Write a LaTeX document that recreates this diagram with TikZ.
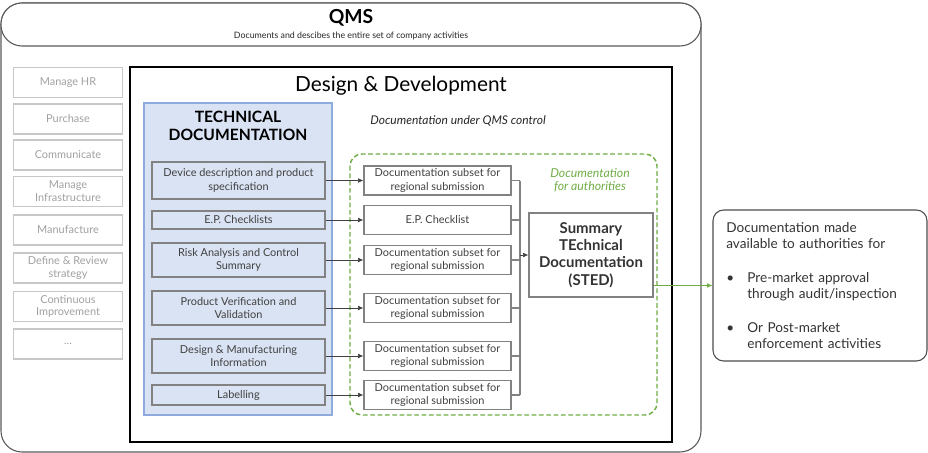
\documentclass[tikz,border=0pt]{standalone}
\usepackage{fontspec}
\setmainfont{Lato}
\usetikzlibrary{arrows.meta}
\definecolor{tdfill}{RGB}{218,227,243}
\definecolor{tdline}{RGB}{143,170,220}
\definecolor{authgreen}{RGB}{112,173,71}
\definecolor{txtgray}{RGB}{64,64,64}
\definecolor{procgray}{RGB}{160,160,160}
\definecolor{procline}{RGB}{200,200,200}
\definecolor{boxline}{RGB}{130,130,130}
\begin{document}
\begin{tikzpicture}[x=0.75pt,y=0.75pt,yscale=-1,xscale=1,
  procbox/.style={draw=procline,line width=0.9pt,text=procgray,font=\fontsize{8.2}{9.6}\selectfont,minimum width=81.75pt,minimum height=22.5pt,align=center,inner sep=1pt},
  tditem/.style={draw=boxline,line width=0.9pt,fill=tdfill,text=txtgray,font=\fontsize{8.2}{10}\selectfont,minimum width=129.75pt,align=center,inner sep=1pt},
  subbox/.style={draw=boxline,line width=0.9pt,fill=white,text=txtgray,font=\fontsize{8.2}{9.8}\selectfont,minimum width=110.25pt,minimum height=21.75pt,align=center,inner sep=1pt},
  conn/.style={draw=black!75,line width=0.5pt,-{Latex[length=4pt,width=3.5pt]}},
  busline/.style={draw=boxline,line width=0.8pt}]

\useasboundingbox (0,0) rectangle (928,453);

\draw [draw=black!65,line width=0.8pt,rounded corners=15.75pt] (1,3) rectangle (701,452);
\node [draw=black!65,line width=0.8pt,fill=white,rounded corners=15.75pt,minimum width=525pt,minimum height=32.25pt] (qms) at (351,24.5) {};
\node [font=\fontsize{14.5}{16}\selectfont\bfseries] (qmstitle) at (351,18) {QMS};
\node [font=\fontsize{6.6}{7.5}\selectfont,text=black!85] (qmssub) at (351,36.5) {Documents and descibes the entire set of company activities};

\node [procbox] (hr) at (68,82.5) {Manage HR};
\node [procbox] (purchase) at (68,119) {Purchase};
\node [procbox] (communicate) at (68,155) {Communicate};
\node [procbox] (infra) at (68,191.5) {Manage\\Infrastructure};
\node [procbox] (manufacture) at (68,230) {Manufacture};
\node [procbox] (strategy) at (68,268) {Define \& Review\\strategy};
\node [procbox] (improve) at (68,306.5) {Continuous\\Improvement};
\node [procbox] (more) at (68,344) {...};

\draw [line width=1.3pt] (130,67) rectangle (672,442);
\node [font=\fontsize{15.6}{17}\selectfont] (ddtitle) at (401,86) {Design \& Development};

\node [draw=tdline,line width=0.8pt,fill=tdfill,minimum width=141pt,minimum height=234pt] (tdbox) at (238,259) {};
\node [font=\fontsize{11.7}{14}\selectfont\bfseries,align=center] (tdtitle) at (238,126) {TECHNICAL\\DOCUMENTATION};

\node [tditem,minimum height=27.75pt] (desc) at (238.5,180.5) {Device description and product\\specification};
\node [tditem,minimum height=13.5pt] (epc) at (238.5,220) {E.P. Checklists};
\node [tditem,minimum height=25.5pt] (risk) at (238.5,260) {Risk Analysis and Control\\Summary};
\node [tditem,minimum height=25.5pt] (verif) at (238.5,308) {Product Verification and\\Validation};
\node [tditem,minimum height=25.5pt] (dminfo) at (238.5,356) {Design \& Manufacturing\\Information};
\node [tditem,minimum height=15pt] (label) at (238.5,395) {Labelling};

\node [font=\fontsize{9}{10}\selectfont\itshape,text=black!85] (qmsctrl) at (458,121) {Documentation under QMS control};

\draw [authgreen,line width=1.1pt,dash pattern=on 3.5pt off 2pt,rounded corners=9pt] (350,154) rectangle (657,415);
\node [font=\fontsize{9.2}{10}\selectfont\itshape,text=authgreen,align=center] (authlabel) at (590,180.5) {Documentation\\for authorities};

\node [subbox] (sub1) at (437.5,180.5) {Documentation subset for\\regional submission};
\node [subbox] (subep) at (437.5,220) {E.P. Checklist};
\node [subbox] (sub3) at (437.5,260) {Documentation subset for\\regional submission};
\node [subbox] (sub4) at (437.5,308) {Documentation subset for\\regional submission};
\node [subbox] (sub5) at (437.5,356) {Documentation subset for\\regional submission};
\node [subbox] (sub6) at (437.5,395) {Documentation subset for\\regional submission};

\node [draw=boxline,line width=0.9pt,fill=white,text=black!80,font=\fontsize{11.2}{13}\selectfont\bfseries,align=center,minimum width=93pt,minimum height=63pt] (sted) at (591,255) {Summary\\TEchnical\\Documentation\\(STED)};

\draw [conn] (desc) -- (sub1);
\draw [conn] (epc) -- (subep);
\draw [conn] (risk) -- (sub3);
\draw [conn] (verif) -- (sub4);
\draw [conn] (dminfo) -- (sub5);
\draw [conn] (label) -- (sub6);

\coordinate (bus) at (520,255);
\foreach \n in {sub1,subep,sub3,sub4,sub5,sub6}
  \draw [busline] (\n.east) -- (\n.east -| bus);
\draw [busline] (bus |- sub1.east) -- (bus |- sub6.east);
\draw [conn] (bus) -- (sted.west);

\node [draw=black!70,line width=0.8pt,rounded corners=8pt,text=black!80,font=\fontsize{10.2}{12}\selectfont,align=left,text width=140.5pt,inner xsep=10pt,minimum height=113.25pt] (note) at (820,285.5) {Documentation made\\available to authorities for\\[13.5pt]
\makebox[15.75pt][l]{\textbullet}Pre-market approval\\\hspace*{15.75pt}through audit/inspection\\[13pt]
\makebox[15.75pt][l]{\textbullet}Or Post-market\\\hspace*{15.75pt}enforcement activities};

\draw [authgreen,line width=0.6pt,-{Latex[length=4pt,width=3.5pt]}] (sted.east |- note.west) -- (note.west);

\end{tikzpicture}
\end{document}
